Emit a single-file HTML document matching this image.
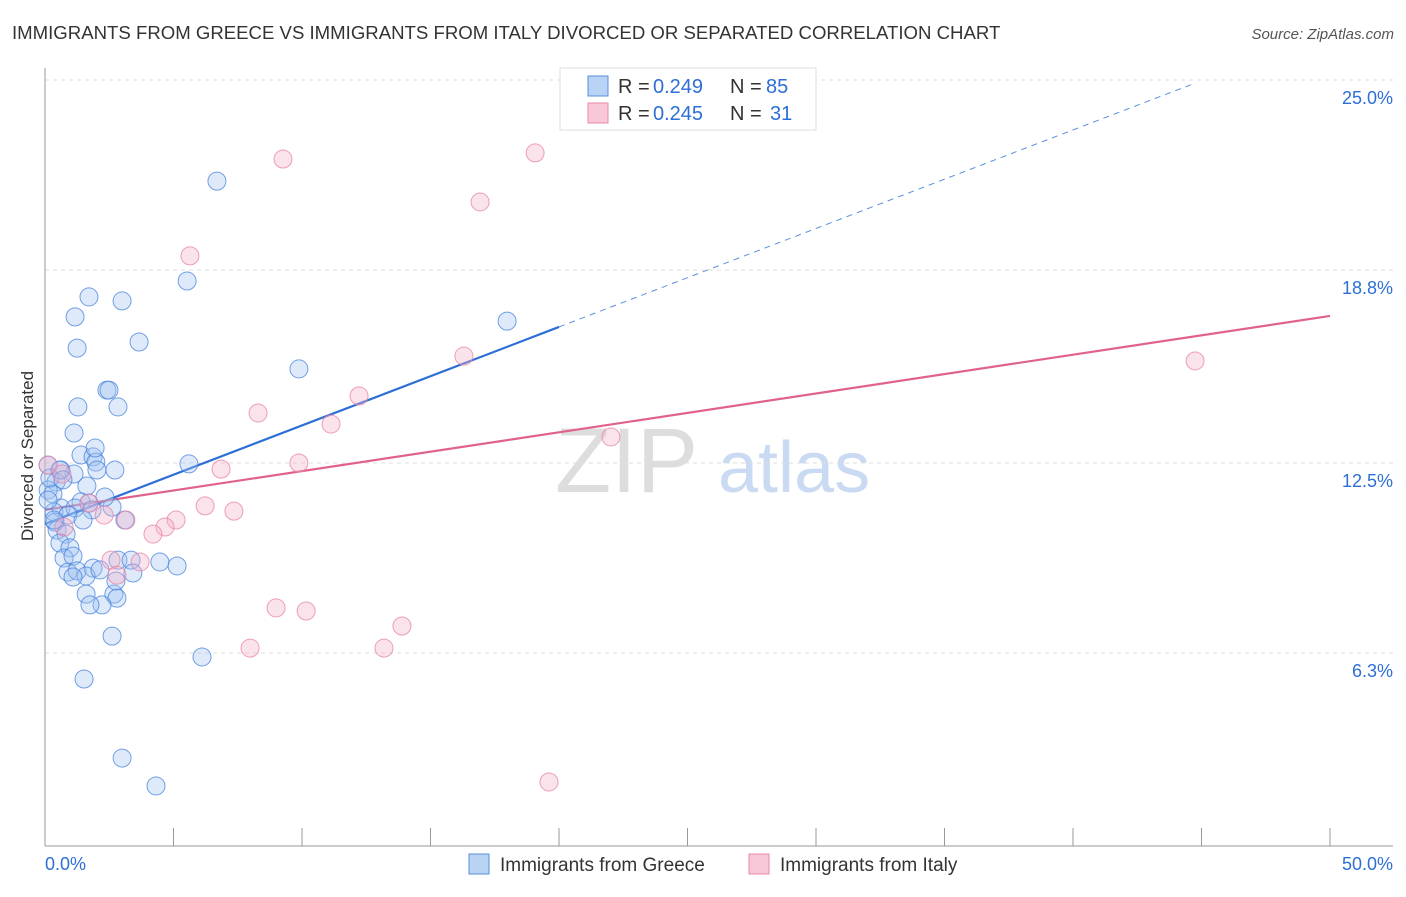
<!DOCTYPE html>
<html><head><meta charset="utf-8"><style>
body{margin:0;background:#fff;font-family:"Liberation Sans",sans-serif}
svg text{font-family:"Liberation Sans",sans-serif}
</style></head><body>
<svg id="chart" width="1406" height="892" xmlns="http://www.w3.org/2000/svg">
<text x="12" y="39" font-size="18.6" fill="#333">IMMIGRANTS FROM GREECE VS IMMIGRANTS FROM ITALY DIVORCED OR SEPARATED CORRELATION CHART</text>
<text x="1394" y="39" font-size="15" fill="#555" text-anchor="end" font-style="italic">Source: ZipAtlas.com</text>
<text x="33" y="456" font-size="17" fill="#333" text-anchor="middle" transform="rotate(-90 33 456)">Divorced or Separated</text>
<text x="555" y="492" font-size="92" fill="#ddd" font-family="Liberation Serif">ZIP</text>
<text x="718" y="492" font-size="72" fill="#c9daf2">atlas</text>
<g id="grid"></g><g id="axes"></g><g id="trend"></g><g id="pts"></g>
<g>
<rect x="560" y="68" width="256" height="62" fill="#fff" stroke="#ddd"/>
<rect x="588" y="76" width="20" height="20" fill="#b8d3f4" stroke="#5a8fdc"/>
<text x="618" y="93" font-size="20" fill="#333">R =</text>
<text x="653" y="93" font-size="20" fill="#2d6fd6">0.249</text>
<text x="730" y="93" font-size="20" fill="#333">N =</text>
<text x="766" y="93" font-size="20" fill="#2d6fd6">85</text>
<rect x="588" y="103" width="20" height="20" fill="#f8c8d8" stroke="#e88aa8"/>
<text x="618" y="120" font-size="20" fill="#333">R =</text>
<text x="653" y="120" font-size="20" fill="#2d6fd6">0.245</text>
<text x="730" y="120" font-size="20" fill="#333">N =</text>
<text x="770" y="120" font-size="20" fill="#2d6fd6">31</text>
</g>
<g>
<rect x="469" y="854" width="20" height="20" fill="#b8d3f4" stroke="#5a8fdc"/>
<text x="500" y="871" font-size="19" fill="#333">Immigrants from Greece</text>
<rect x="749" y="854" width="20" height="20" fill="#f8c8d8" stroke="#e88aa8"/>
<text x="780" y="871" font-size="19" fill="#333">Immigrants from Italy</text>
</g>
</svg>
<script>
const greeceX=[6.69,5.53,1.71,3.0,1.17,3.66,1.25,9.88,2.41,2.49,2.84,1.28,1.13,1.40,1.87,1.98,2.02,5.60,2.72,0.62,1.13,0.43,1.63,0.12,0.31,1.40,1.71,2.61,0.62,1.17,1.83,0.35,0.89,3.11,0.39,1.48,0.47,0.82,0.58,0.97,0.74,1.09,2.84,4.47,3.35,5.14,0.89,1.25,1.87,1.60,2.14,1.09,1.60,2.68,2.80,2.22,1.75,3.42,2.76,2.61,6.11,1.52,3.0,4.32,17.98,0.12,0.19,0.58,0.12,0.35,1.95,2.33,0.70];
const greeceY=[21.70,18.44,17.92,17.79,17.27,16.45,16.25,15.57,14.88,14.88,14.33,14.33,13.48,12.76,12.70,12.53,12.27,12.47,12.27,12.27,12.14,11.88,11.75,11.62,11.49,11.23,11.19,11.06,11.03,11.03,10.97,10.90,10.80,10.64,10.57,10.64,10.31,10.18,9.89,9.73,9.40,9.46,9.33,9.27,9.33,9.14,8.94,8.98,9.07,8.81,9.01,8.78,8.22,8.22,8.09,7.87,7.87,8.91,8.65,6.85,6.17,5.45,2.87,1.96,17.13,12.43,12.01,12.27,11.29,10.64,12.99,11.39,11.95];
const italyX=[9.26,19.07,16.93,5.64,16.30,44.75,12.22,8.29,11.13,22.02,6.85,9.88,6.23,7.35,5.10,3.15,2.30,4.67,4.20,1.71,0.74,2.57,2.80,0.12,8.99,10.16,13.89,7.98,13.19,19.61,0.66,3.70];
const italyY=[22.42,22.62,21.02,19.26,15.99,15.83,14.69,14.13,13.77,13.35,12.30,12.50,11.10,10.93,10.64,10.64,10.80,10.41,10.18,11.19,10.41,9.33,8.84,12.43,7.77,7.67,7.18,6.46,6.46,2.09,12.14,9.27];
const yTicks=[25.0,18.8,12.5,6.3];
const yTickLabels=["25.0%","18.8%","12.5%","6.3%"];
const greeceTrend=[10.51,0.3215];
const italyTrend=[10.97,0.1266];
const NS="http://www.w3.org/2000/svg";
const X=v=>45+v*25.7, Y=v=>80+(25-v)*30.64;
function mk(t,a,p){const e=document.createElementNS(NS,t);for(const k in a)e.setAttribute(k,a[k]);document.getElementById(p).appendChild(e);return e;}
yTicks.forEach((t,i)=>{
 const l=mk('line',{x1:45,x2:1393,y1:Y(t),y2:Y(t),stroke:'#ddd','stroke-dasharray':'4,4'},'grid');
 
 
 const tx=mk('text',{x:1393,y:Y(t)+24,'font-size':18,fill:'#2d6fd6','text-anchor':'end'},'grid');
 tx.textContent=yTickLabels[i];
 
 
});
mk('line',{x1:45,x2:45,y1:68,y2:846,stroke:'#999'},'axes');
mk('line',{x1:45,x2:1393,y1:846,y2:846,stroke:'#999'},'axes');
for(let i=1;i<=10;i++){mk('line',{x1:X(i*5),x2:X(i*5),y1:828,y2:846,stroke:'#999'},'axes');}
const x0=mk('text',{x:45,y:870,'font-size':18,fill:'#2d6fd6'},'axes');x0.textContent='0.0%';


const x1=mk('text',{x:1393,y:870,'font-size':18,fill:'#2d6fd6','text-anchor':'end'},'axes');x1.textContent='50.0%';


const gl=mk('line',{x1:X(0),y1:Y(greeceTrend[0]),x2:X(20),y2:Y(greeceTrend[0]+20*greeceTrend[1]),stroke:'#2d6fd6','stroke-width':2.2},'trend');


const gd=mk('line',{x1:X(20),y1:Y(greeceTrend[0]+20*greeceTrend[1]),x2:X(44.75),y2:Y(greeceTrend[0]+44.75*greeceTrend[1]),stroke:'#5a8fdc','stroke-width':1,'stroke-dasharray':'6,5'},'trend');


const il=mk('line',{x1:X(0),y1:Y(italyTrend[0]),x2:X(50),y2:Y(italyTrend[0]+50*italyTrend[1]),stroke:'#e0628c','stroke-width':2.2},'trend');


greeceX.forEach((v,i)=>{const c=mk('circle',{cx:X(v),cy:Y(greeceY[i]),r:9,fill:'rgba(160,196,240,0.35)',stroke:'rgba(70,130,220,0.75)','stroke-width':1},'pts');
 
 });
italyX.forEach((v,i)=>{const c=mk('circle',{cx:X(v),cy:Y(italyY[i]),r:9,fill:'rgba(244,176,200,0.35)',stroke:'rgba(230,130,165,0.75)','stroke-width':1},'pts');
 
 });
</script>
</body></html>
